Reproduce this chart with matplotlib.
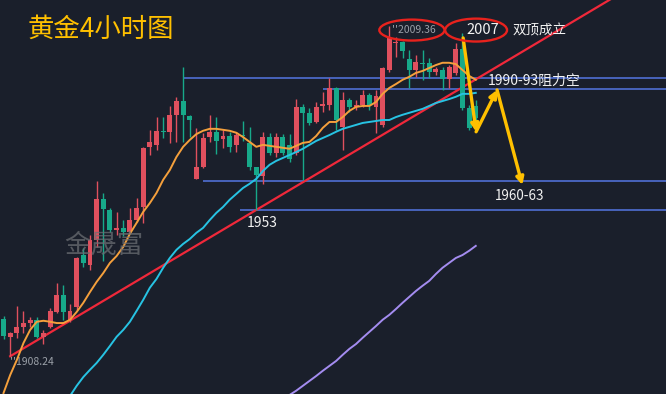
#!/usr/bin/env python3
"""
Gold 4H candlestick chart with MAs, trendline, support/resistance levels
and a double-top annotation.
"""

import numpy as np
import matplotlib
matplotlib.use("Agg")
import matplotlib.pyplot as plt
from matplotlib.patches import Ellipse

plt.rcParams['font.family'] = ['Noto Sans CJK SC', 'DejaVu Sans']

# ---------- Data ------------------------------------------------------------

opens = [1919.7, 1914.2, 1915.4, 1917.2, 1918.4, 1919.4, 1914.2, 1917.2, 1921.8, 1927.0,
         1919.4, 1923.3, 1939.2, 1936.2, 1943.8, 1956.4, 1953.0, 1946.9, 1947.5, 1946.3,
         1949.9, 1953.9, 1972.3, 1972.9, 1977.2, 1976.9, 1982.1, 1986.3, 1981.7, 1962.5,
         1966.1, 1975.3, 1976.9, 1974.7, 1975.6, 1972.9, 1975.9, 1973.5, 1966.1, 1963.4,
         1975.3, 1970.4, 1975.3, 1972.9, 1970.4, 1984.5, 1982.7, 1979.9, 1984.8, 1985.1,
         1990.3, 1978.4, 1986.6, 1984.5, 1985.1, 1988.2, 1984.5, 1979.0, 1995.8, 2004.1,
         2004.4, 1999.2, 1995.8, 1998.0, 1998.0, 1995.2, 1995.8, 1993.1, 1994.9, 2002.2,
         1984.2, 1984.8]
highs = [1920.6, 1915.8, 1923.6, 1922.1, 1920.3, 1920.3, 1916.3, 1923.0, 1930.7, 1930.1,
         1924.3, 1938.6, 1941.4, 1945.4, 1961.9, 1958.2, 1953.6, 1952.4, 1949.9, 1953.6,
         1956.7, 1972.3, 1977.5, 1981.4, 1981.4, 1984.8, 1987.6, 1996.7, 1982.1, 1978.1,
         1976.5, 1982.1, 1981.4, 1977.5, 1976.9, 1976.9, 1980.2, 1978.4, 1966.1, 1976.9,
         1976.5, 1976.5, 1976.2, 1976.2, 1986.9, 1985.4, 1984.2, 1986.0, 1989.1, 1993.4,
         1990.6, 1989.1, 1987.3, 1986.6, 1989.7, 1988.8, 1989.7, 1996.7, 2009.36, 2005.9,
         2004.7, 2001.9, 2000.4, 2001.9, 1999.5, 1996.7, 1996.7, 1997.3, 2004.1, 2007.0,
         1985.1, 1986.6]
lows = [1913.6, 1908.24, 1913.9, 1915.4, 1917.2, 1913.9, 1912.0, 1916.9, 1921.5, 1919.4,
        1918.8, 1922.4, 1935.6, 1934.7, 1941.7, 1937.4, 1946.3, 1945.4, 1945.0, 1946.0,
        1949.3, 1949.0, 1969.8, 1971.3, 1975.0, 1973.5, 1973.8, 1973.8, 1975.3, 1962.5,
        1965.8, 1973.8, 1970.1, 1972.0, 1970.7, 1970.7, 1974.1, 1965.2, 1953.0, 1961.0,
        1969.8, 1969.2, 1969.8, 1967.7, 1969.8, 1962.2, 1979.0, 1979.6, 1983.0, 1983.6,
        1977.5, 1971.3, 1983.0, 1983.6, 1984.5, 1983.6, 1976.5, 1978.4, 1995.2, 1999.8,
        1999.5, 1990.3, 1993.7, 1992.8, 1993.4, 1994.3, 1989.7, 1990.3, 1994.3, 1983.6,
        1977.5, 1978.1]
closes = [1914.5, 1915.4, 1917.2, 1918.4, 1919.4, 1914.2, 1915.4, 1922.1, 1927.0, 1921.8,
          1922.1, 1938.3, 1936.8, 1943.8, 1956.4, 1953.3, 1946.9, 1947.5, 1946.3, 1949.9,
          1953.6, 1972.0, 1973.8, 1977.2, 1976.9, 1982.1, 1986.3, 1982.1, 1980.5, 1966.1,
          1975.0, 1976.9, 1974.1, 1975.6, 1972.3, 1975.9, 1975.6, 1966.1, 1963.7, 1975.3,
          1970.4, 1975.3, 1970.4, 1968.6, 1984.5, 1982.7, 1979.6, 1984.5, 1985.4, 1990.3,
          1980.5, 1986.6, 1984.5, 1985.1, 1988.2, 1985.1, 1987.9, 1996.4, 2005.6, 2004.4,
          2001.6, 1995.8, 1998.3, 1997.6, 1995.2, 1996.1, 1993.1, 1996.7, 2002.2, 1984.2,
          1978.1, 1981.1]

# moving averages (orange from bar 0, cyan from bar 10, purple from bar 43)
ma_fast = [1897.0, 1902.5, 1907.1, 1912.3, 1916.3, 1918.8, 1919.1, 1918.8, 1918.4, 1918.4,
           1919.4, 1921.8, 1924.6, 1927.9, 1931.0, 1933.7, 1936.8, 1938.9, 1941.7, 1945.7,
           1949.0, 1952.4, 1955.1, 1958.2, 1962.2, 1965.2, 1969.2, 1972.3, 1974.4, 1976.2,
           1977.2, 1977.8, 1977.8, 1977.5, 1977.2, 1976.6, 1975.3, 1973.8, 1972.3, 1972.9,
           1972.6, 1972.3, 1972.0, 1971.7, 1972.6, 1973.5, 1973.8, 1975.6, 1978.1, 1979.9,
           1979.9, 1981.4, 1983.3, 1984.5, 1984.8, 1984.8, 1986.0, 1988.5, 1990.3, 1991.5,
           1992.8, 1993.7, 1994.9, 1995.5, 1996.4, 1997.3, 1998.0, 1998.0, 1997.6, 1995.8,
           1994.0, 1992.8]
ma_mid_start = 10
ma_mid = [1896.1, 1899.2, 1901.9, 1904.1, 1906.2, 1908.7, 1911.4, 1914.2, 1916.3, 1918.8,
          1922.1, 1925.5, 1929.2, 1931.9, 1935.3, 1938.3, 1940.8, 1942.6, 1944.1, 1946.0,
          1947.5, 1949.9, 1952.1, 1953.9, 1956.1, 1957.9, 1959.7, 1961.0, 1962.5, 1964.9,
          1966.8, 1968.0, 1968.9, 1969.8, 1970.7, 1971.7, 1972.9, 1974.1, 1975.0, 1975.9,
          1976.9, 1977.8, 1978.4, 1979.0, 1979.6, 1979.9, 1980.2, 1980.5, 1980.5, 1981.4,
          1982.1, 1982.7, 1983.3, 1983.9, 1984.8, 1985.7, 1986.3, 1986.9, 1987.6, 1988.5,
          1988.5, 1988.8]
ma_slow_start = 43
ma_slow = [1896.4, 1897.7, 1899.2, 1900.7, 1902.2, 1903.8, 1905.3, 1906.8, 1908.7, 1910.5,
           1912.0, 1913.9, 1915.7, 1917.5, 1919.4, 1920.9, 1922.7, 1924.6, 1926.4, 1928.2,
           1929.8, 1931.3, 1933.4, 1935.3, 1936.8, 1938.3, 1939.2, 1940.5, 1942.0]

# horizontal levels: (price, first bar)
levels = [(1993.4, 27), (1990.0, 48), (1961.9, 30), (1953.0, 35.6)]

# trendline through the 1908.24 low (bar 1) and the 1953 low (bar 38)
trend_pts = [(1, 1908.24), (38, 1953.0)]

# projected path of the yellow arrows (bar, price)
path_x = [69.1, 71.05, 74.2, 78.0]
path_y = [2005.6, 1976.9, 1989.7, 1960.6]

# ---------- Style -----------------------------------------------------------

BG = '#1a1f2b'
UP = '#e0505e'
DOWN = '#17a98a'
YELLOW = '#ffc000'
WHITE = '#f2f2f2'
GREY = '#9aa0a8'

fig = plt.figure(figsize=(6.66, 3.94), dpi=100, facecolor=BG)
ax = fig.add_axes([0, 0, 1, 1], facecolor=BG)
ax.set_xlim(-0.53, 99.6)
ax.set_ylim(1896.7, 2017.2)
ax.axis('off')

# ---------- Levels, trend, MAs ----------------------------------------------

for price, x0 in levels:
    ax.hlines(price, x0, 100, color='#4f6fd4', lw=1.2, zorder=1)

(x1, y1), (x2, y2) = trend_pts
slope = (y2 - y1) / (x2 - x1)
tx = np.array([x1, 100])
ax.plot(tx, y1 + slope * (tx - x1), color='#f0283a', lw=1.6, zorder=2)

n = len(closes)
ax.plot(np.arange(n), ma_fast, color='#f5a03c', lw=1.4, zorder=4)
ax.plot(np.arange(ma_mid_start, ma_mid_start + len(ma_mid)), ma_mid,
        color='#27c3e3', lw=1.4, zorder=4)
ax.plot(np.arange(ma_slow_start, ma_slow_start + len(ma_slow)), ma_slow,
        color='#a48cf0', lw=1.4, zorder=4)

# ---------- Candles ---------------------------------------------------------

for i in range(n):
    o, h, l, c = opens[i], highs[i], lows[i], closes[i]
    col = UP if c >= o else DOWN
    ax.vlines(i, l, h, color=col, lw=1, zorder=3)
    body = max(abs(c - o), 0.35)
    ax.bar(i, body, bottom=min(o, c), width=0.74, color=col, lw=0, zorder=3)

# ---------- Arrows ----------------------------------------------------------

for k in range(len(path_x) - 1):
    ax.annotate('', xy=(path_x[k + 1], path_y[k + 1]), xytext=(path_x[k], path_y[k]),
                arrowprops=dict(arrowstyle='-|>', color=YELLOW, lw=2.4,
                                mutation_scale=11, shrinkA=0, shrinkB=0),
                zorder=6)

# ---------- Text ------------------------------------------------------------

fig.text(28 / 666, 1 - 29 / 394, '黄金4小时图', color=YELLOW, fontsize=19,
         va='center', ha='left')
# watermark, half transparent on top of the candles
ax.text(9.2, 1942.3, '金晟富', color='#6a6d72', alpha=0.75, fontsize=19,
        va='center', ha='left', zorder=5)

ax.text(58.4, 2008.0, "''2009.36", color=GREY, fontsize=7.5, va='center')
ax.text(0.9, 1906.5, "''1908.24", color=GREY, fontsize=7.5, va='center')
ax.text(69.6, 2008.0, '2007', color=WHITE, fontsize=10.5, va='center')
ax.text(76.6, 2008.0, '双顶成立', color=WHITE, fontsize=9.7, va='center')
ax.text(72.8, 1992.5, '1990-93阻力空', color=WHITE, fontsize=10, va='center')
ax.text(73.8, 1957.2, '1960-63', color=WHITE, fontsize=9.7, va='center')
ax.text(36.6, 1949.0, '1953', color=WHITE, fontsize=10, va='center')

for cx, w, h in [(61.4, 9.8, 6.4), (71.05, 9.3, 7.0)]:
    ax.add_patch(Ellipse((cx, 2008.0), w, h, fill=False, ec='#e8221d', lw=1.7,
                         zorder=7))

fig.savefig('out.png', dpi=100, facecolor=BG)
